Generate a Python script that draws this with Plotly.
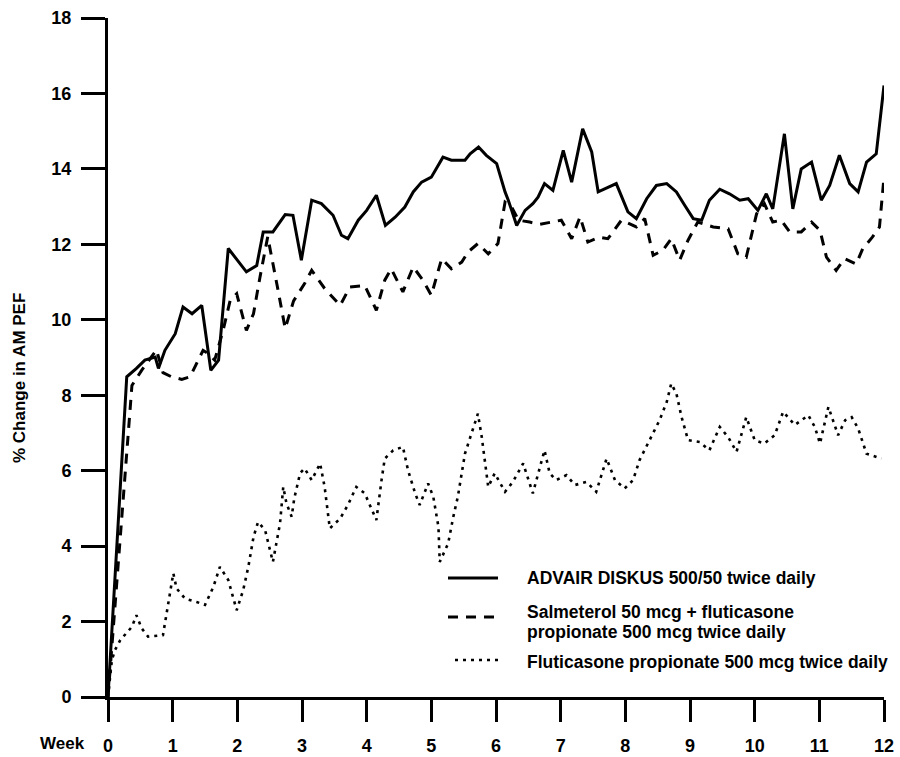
import plotly.graph_objects as go

# ---------------- data ----------------
advair_weeks = [0, 0.29, 0.44, 0.57, 0.73, 0.78, 0.88, 1.04, 1.16, 1.30, 1.45, 1.59, 1.71, 1.86,
                2.14, 2.30, 2.40, 2.55, 2.74, 2.86, 2.99, 3.15, 3.30, 3.48, 3.61, 3.71, 3.87, 4.00,
                4.15, 4.29, 4.44, 4.59, 4.72, 4.85, 5.00, 5.18, 5.31, 5.52, 5.60, 5.73, 5.85, 6.01,
                6.14, 6.19, 6.32, 6.45, 6.57, 6.65, 6.75, 6.88, 7.04, 7.17, 7.34, 7.48, 7.58, 7.68,
                7.86, 8.04, 8.17, 8.33, 8.48, 8.64, 8.79, 8.92, 9.05, 9.18, 9.30, 9.46, 9.61, 9.77,
                9.90, 10.05, 10.18, 10.28, 10.46, 10.59, 10.72, 10.88, 11.03, 11.16, 11.31, 11.47,
                11.60, 11.73, 11.88, 12.00]
advair_values = [0, 8.49, 8.71, 8.93, 9.01, 8.71, 9.19, 9.63, 10.34, 10.16, 10.38, 8.66, 8.93, 11.89,
                 11.27, 11.44, 12.33, 12.33, 12.79, 12.77, 11.58, 13.17, 13.08, 12.77, 12.24, 12.15,
                 12.64, 12.90, 13.30, 12.50, 12.72, 12.99, 13.39, 13.65, 13.78, 14.31, 14.23, 14.23,
                 14.40, 14.58, 14.36, 14.14, 13.39, 13.17, 12.50, 12.90, 13.08, 13.25, 13.61, 13.43,
                 14.49, 13.65, 15.06, 14.45, 13.39, 13.47, 13.61, 12.86, 12.68, 13.21, 13.56, 13.61,
                 13.39, 13.03, 12.68, 12.64, 13.17, 13.46, 13.34, 13.17, 13.21, 12.90, 13.34, 12.94,
                 14.93, 12.94, 14.00, 14.18, 13.17, 13.56, 14.36, 13.61, 13.39, 14.18, 14.40, 16.21]

salm_weeks = [0, 0.37, 0.52, 0.75, 0.85, 0.98, 1.14, 1.27, 1.47, 1.55, 1.65, 1.78, 1.89, 1.99,
              2.14, 2.25, 2.35, 2.47, 2.63, 2.74, 2.87, 3.04, 3.15, 3.35, 3.59, 3.74, 3.97, 4.15,
              4.28, 4.38, 4.56, 4.72, 4.87, 5.00, 5.16, 5.31, 5.47, 5.57, 5.72, 5.88, 6.03, 6.14,
              6.24, 6.35, 6.52, 6.68, 6.86, 7.01, 7.17, 7.30, 7.42, 7.60, 7.73, 7.94, 8.17, 8.30,
              8.43, 8.58, 8.71, 8.84, 8.97, 9.12, 9.36, 9.59, 9.74, 9.87, 10.03, 10.15, 10.28,
              10.41, 10.54, 10.72, 10.88, 11.01, 11.11, 11.26, 11.39, 11.57, 11.67, 11.82, 11.93, 12.00]
salm_values = [0, 8.26, 8.66, 9.20, 8.60, 8.49, 8.42, 8.49, 9.19, 9.10, 8.93, 9.72, 10.52, 10.69,
               9.72, 10.16, 11.13, 12.20, 10.78, 9.77, 10.50, 10.96, 11.31, 10.83, 10.38, 10.87,
               10.91, 10.25, 11.05, 11.35, 10.74, 11.40, 11.05, 10.65, 11.62, 11.35, 11.53, 11.80,
               12.02, 11.75, 12.02, 13.12, 12.99, 12.64, 12.59, 12.53, 12.59, 12.64, 12.15, 12.73,
               12.06, 12.19, 12.15, 12.64, 12.46, 12.68, 11.71, 11.84, 12.15, 11.58, 12.11, 12.59,
               12.46, 12.41, 11.75, 11.66, 12.81, 13.08, 12.59, 12.64, 12.33, 12.33, 12.59, 12.37,
               11.66, 11.31, 11.62, 11.48, 11.88, 12.19, 12.46, 13.78]

flut_weeks = [0, 0.06, 0.11, 0.19, 0.37, 0.44, 0.52, 0.62, 0.85, 0.93, 1.01, 1.06, 1.19, 1.37,
              1.50, 1.63, 1.73, 1.86, 1.99, 2.09, 2.17, 2.25, 2.32, 2.43, 2.55, 2.66, 2.71, 2.76,
              2.84, 2.88, 2.97, 3.04, 3.15, 3.28, 3.35, 3.43, 3.59, 3.71, 3.84, 3.97, 4.08, 4.15,
              4.23, 4.28, 4.41, 4.56, 4.64, 4.75, 4.82, 4.95, 5.03, 5.11, 5.13, 5.26, 5.34, 5.41,
              5.52, 5.60, 5.72, 5.78, 5.85, 5.88, 5.98, 6.14, 6.26, 6.42, 6.57, 6.68, 6.75, 6.83,
              6.93, 7.09, 7.22, 7.40, 7.55, 7.71, 7.84, 7.99, 8.12, 8.22, 8.38, 8.53, 8.64, 8.71,
              8.79, 8.87, 8.97, 9.15, 9.30, 9.46, 9.59, 9.72, 9.87, 10.00, 10.15, 10.31, 10.44,
              10.62, 10.83, 10.93, 11.01, 11.14, 11.29, 11.40, 11.50, 11.60, 11.73, 11.96]
flut_values = [0, 0.98, 1.25, 1.51, 1.86, 2.17, 1.82, 1.60, 1.64, 2.48, 3.28, 2.88, 2.61, 2.52,
               2.44, 2.92, 3.45, 3.10, 2.30, 2.83, 3.45, 4.24, 4.64, 4.42, 3.58, 4.60, 5.57, 5.13,
               4.78, 5.26, 5.93, 6.06, 5.75, 6.19, 5.57, 4.47, 4.73, 5.09, 5.57, 5.40, 4.95, 4.69,
               5.75, 6.32, 6.54, 6.63, 6.01, 5.40, 5.09, 5.66, 5.31, 4.51, 3.58, 4.07, 4.78, 5.31,
               6.45, 6.89, 7.51, 6.89, 6.01, 5.57, 5.93, 5.44, 5.70, 6.19, 5.40, 6.10, 6.54, 5.93,
               5.75, 5.88, 5.62, 5.70, 5.44, 6.32, 5.75, 5.53, 5.75, 6.28, 6.81, 7.34, 7.82, 8.31,
               8.04, 7.42, 6.81, 6.76, 6.54, 7.16, 6.89, 6.50, 7.42, 6.81, 6.72, 6.94, 7.56,
               7.21, 7.47, 7.16, 6.72, 7.69, 6.94, 7.34, 7.42, 7.12, 6.45, 6.32]

x_ticks = [0, 1, 2, 3, 4, 5, 6, 7, 8, 9, 10, 11, 12]
y_ticks = [0, 2, 4, 6, 8, 10, 12, 14, 16, 18]

series_names = ["ADVAIR DISKUS 500/50 twice daily",
                "Salmeterol 50 mcg + fluticasone propionate 500 mcg twice daily",
                "Fluticasone propionate 500 mcg twice daily"]
legend_lines = [["ADVAIR DISKUS 500/50 twice daily"],
                ["Salmeterol 50 mcg + fluticasone", "propionate 500 mcg twice daily"],
                ["Fluticasone propionate 500 mcg twice daily"]]

# ---------------- figure ----------------
W, H = 900, 757
ML, MR, MT, MB = 108, 16, 18, 60
PW, PH = W - ML - MR, H - MT - MB

FONT = "Liberation Sans, Arial, sans-serif"


def px(xp):
    return (xp - ML) / PW


def py(yp):
    return (H - MB - yp) / PH


styles = [dict(color="black", width=3, dash="solid"),
          dict(color="black", width=3, dash="10px,8px"),
          dict(color="black", width=2.6, dash="3px,5px")]

fig = go.Figure()
for xs, ys, name, st in zip([advair_weeks, salm_weeks, flut_weeks],
                            [advair_values, salm_values, flut_values],
                            series_names, styles):
    fig.add_trace(go.Scatter(x=xs, y=ys, mode="lines", name=name, line=st,
                             showlegend=False))

axis_font = dict(family=FONT, size=18, color="black", weight="bold")

fig.update_layout(
    width=W, height=H,
    margin=dict(l=ML, r=MR, t=MT, b=MB, pad=0, autoexpand=False),
    paper_bgcolor="white", plot_bgcolor="white",
    font=dict(family=FONT, color="black"),
    xaxis=dict(range=[0, 12], tickvals=x_ticks, ticktext=[str(v) for v in x_ticks],
               showgrid=False, zeroline=False, showline=True, linecolor="black",
               linewidth=3, ticks="outside", ticklen=22, tickwidth=3, tickcolor="black",
               tickfont=axis_font, ticklabelstandoff=8, automargin=False),
    yaxis=dict(range=[0, 18], tickvals=y_ticks, ticktext=[str(v) for v in y_ticks],
               showgrid=False, zeroline=False, showline=True, linecolor="black",
               linewidth=3, ticks="outside", ticklen=24, tickwidth=3, tickcolor="black",
               tickfont=axis_font, ticklabelstandoff=6, automargin=False),
)

annotations = [
    dict(text="% Change in AM PEF", xref="paper", yref="paper", x=px(19), y=py(378),
         textangle=-90, showarrow=False, xanchor="center", yanchor="middle",
         font=dict(family=FONT, size=17, color="black", weight="bold")),
    dict(text="Week", xref="paper", yref="paper", x=px(62), y=py(743),
         showarrow=False, xanchor="center", yanchor="middle",
         font=dict(family=FONT, size=17, color="black", weight="bold")),
]

legend_text_y = [[578], [612, 632], [662]]
legend_sym = [(448, 498, 578), (448, 498, 617), (455, 498, 660)]
shapes = []
for lines, ys, (x0, x1, yy), st in zip(legend_lines, legend_text_y, legend_sym, styles):
    for t, yv in zip(lines, ys):
        annotations.append(dict(text=t, xref="paper", yref="paper", x=px(525), y=py(yv),
                                showarrow=False, xanchor="left", yanchor="middle",
                                font=dict(family=FONT, size=17.5, color="black", weight="bold")))
    shapes.append(dict(type="line", xref="paper", yref="paper",
                       x0=px(x0), x1=px(x1), y0=py(yy), y1=py(yy), line=st))

fig.update_layout(annotations=annotations, shapes=shapes)

fig.write_html("out.html")
